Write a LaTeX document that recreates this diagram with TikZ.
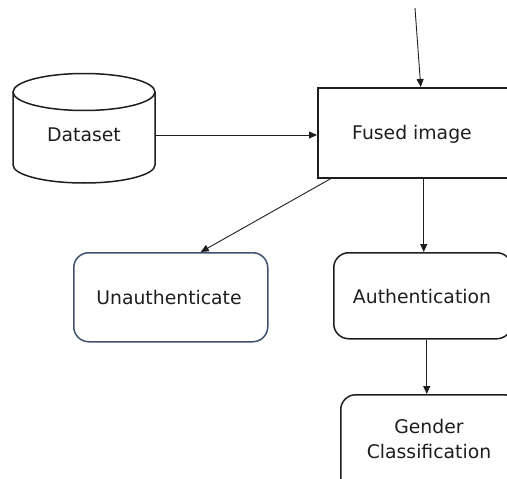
\documentclass[tikz,border=0pt]{standalone}
\usepackage{fontspec}
\setmainfont{DejaVu Sans}
\usetikzlibrary{arrows.meta}
\definecolor{slateb}{HTML}{3E5270}
\definecolor{ink}{HTML}{1E1E1E}
\begin{document}
\begin{tikzpicture}[x=1pt,y=-1pt,
  every node/.style={font=\fontsize{18.8}{25}\selectfont, text=ink, inner sep=0pt, align=center},
  box/.style={draw=ink, line width=1.5pt},
  rbox/.style={box, rounded corners=15pt},
  conn/.style={draw=ink, line width=0.9pt, -{Triangle[length=8pt,width=7pt]}}]
\useasboundingbox (0,0) rectangle (507,479);
\clip (0,0) rectangle (507,479);
% dataset cylinder
\node (ds) [minimum width=142pt, minimum height=110pt] at (84,135) {Dataset};
\draw[ink, line width=1.5pt] (13,92) -- (13,165) arc[start angle=180, end angle=360, x radius=71pt, y radius=18pt] -- (155,92);
\draw[ink, line width=1.5pt] (84,92) ellipse[x radius=71pt, y radius=18.5pt];
% boxes
\node (fused) [box, minimum width=193pt, minimum height=90pt, anchor=north west] at (317,87) {};
\node at (412,134) {Fused image};
\node (unauth) [rbox, draw=slateb, minimum width=194pt, minimum height=89pt, anchor=north west] at (73,252) {};
\node at (169,297) {Unauthenticate};
\node (auth) [rbox, minimum width=178pt, minimum height=86pt, anchor=north west] at (333,252) {};
\node at (422,296) {Authentication};
\node (gender) [rbox, minimum width=178pt, minimum height=110pt, anchor=north west] at (340,394) {};
\node at (429,438.5) {Gender\\Classification};
% connectors
\coordinate (topin) at (415,8);
\draw[conn] (topin) -- ([xshift=6.5pt]fused.north);
\draw[conn] (ds.east) -- (fused.west |- ds.east);
\draw[conn] ([xshift=14pt]fused.south west) -- ([xshift=30pt]unauth.north);
\draw[conn] ([xshift=9.5pt]fused.south) -- ([xshift=1pt]auth.north);
\draw[conn] ([xshift=4pt]auth.south) -- ([xshift=-3pt]gender.north);
\end{tikzpicture}
\end{document}
